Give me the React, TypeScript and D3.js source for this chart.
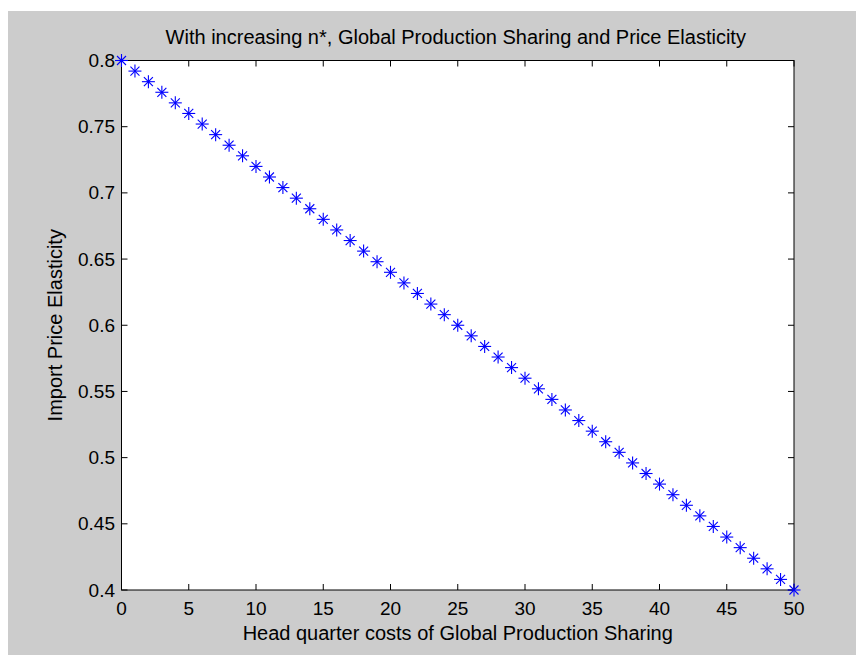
import React from 'react';
import * as d3 from 'd3';

// headquarter costs (x) and import price elasticity (y)
const hqCosts = [
  0, 1, 2, 3, 4, 5, 6, 7, 8, 9, 10, 11, 12, 13, 14, 15, 16, 17, 18, 19, 20,
  21, 22, 23, 24, 25, 26, 27, 28, 29, 30, 31, 32, 33, 34, 35, 36, 37, 38, 39, 40,
  41, 42, 43, 44, 45, 46, 47, 48, 49, 50,
];
const elasticity = [
  0.8, 0.792, 0.784, 0.776, 0.768, 0.76, 0.752, 0.744, 0.736, 0.728, 0.72,
  0.712, 0.704, 0.696, 0.688, 0.68, 0.672, 0.664, 0.656, 0.648, 0.64,
  0.632, 0.624, 0.616, 0.608, 0.6, 0.592, 0.584, 0.576, 0.568, 0.56,
  0.552, 0.544, 0.536, 0.528, 0.52, 0.512, 0.504, 0.496, 0.488, 0.48,
  0.472, 0.464, 0.456, 0.448, 0.44, 0.432, 0.424, 0.416, 0.408, 0.4,
];
const xTicks = [0, 5, 10, 15, 20, 25, 30, 35, 40, 45, 50];
const yTicks = [0.4, 0.45, 0.5, 0.55, 0.6, 0.65, 0.7, 0.75, 0.8];

const W = 856;
const H = 647;
const left = 113.5, right = 786, top = 52.5, bottom = 582;
const font = 'Liberation Sans, Arial, Helvetica, sans-serif';
const tickLen = 6;

export default function App() {
  const x = d3.scaleLinear().domain([0, 50]).range([left, right]);
  const y = d3.scaleLinear().domain([0.4, 0.8]).range([bottom, top]);
  const r = 6.5;
  const d = 4.5;

  return (
    <svg width={W} height={H} style={{ display: 'block' }}>
      <rect x={0} y={3} width={W} height={H - 3} fill="#cccccc" />
      <rect x={left} y={top} width={right - left} height={bottom - top} fill="#ffffff" />

      {/* ticks, inward on all four sides */}
      <g stroke="#000" strokeWidth={1}>
        {xTicks.map((t) => (
          <g key={'x' + t}>
            <line x1={x(t)} x2={x(t)} y1={bottom} y2={bottom - tickLen} />
            <line x1={x(t)} x2={x(t)} y1={top} y2={top + tickLen} />
          </g>
        ))}
        {yTicks.map((t) => (
          <g key={'y' + t}>
            <line x1={left} x2={left + tickLen} y1={y(t)} y2={y(t)} />
            <line x1={right} x2={right - tickLen} y1={y(t)} y2={y(t)} />
          </g>
        ))}
      </g>
      <rect x={left} y={top} width={right - left} height={bottom - top} fill="none" stroke="#000" strokeWidth={1} />

      {/* tick labels */}
      <g fontFamily={font} fontSize={19} fill="#000">
        {xTicks.map((t) => (
          <text key={'xl' + t} x={x(t)} y={bottom + 25} textAnchor="middle">
            {t}
          </text>
        ))}
        {yTicks.map((t) => (
          <text key={'yl' + t} x={left - 6.5} y={y(t) + 6.5} textAnchor="end">
            {d3.format('')(t)}
          </text>
        ))}
      </g>

      {/* asterisk markers */}
      <g stroke="#0000ff" strokeWidth={1.1}>
        {hqCosts.map((v, i) => {
          const cx = x(v);
          const cy = y(elasticity[i]);
          return (
            <g key={'m' + i}>
              <line x1={cx - r} x2={cx + r} y1={cy} y2={cy} />
              <line x1={cx} x2={cx} y1={cy - r} y2={cy + r} />
              <line x1={cx - d} x2={cx + d} y1={cy - d} y2={cy + d} />
              <line x1={cx - d} x2={cx + d} y1={cy + d} y2={cy - d} />
            </g>
          );
        })}
      </g>

      <g fontFamily={font} fontSize={20} fill="#000">
        <text x={(left + right) / 2 - 2} y={36} textAnchor="middle">
          With increasing n*, Global Production Sharing and Price Elasticity
        </text>
        <text x={(left + right) / 2} y={632} textAnchor="middle">
          Head quarter costs of Global Production Sharing
        </text>
        <text
          transform={`translate(54,${(top + bottom) / 2}) rotate(-90)`}
          textAnchor="middle"
        >
          Import Price Elasticity
        </text>
      </g>
    </svg>
  );
}
